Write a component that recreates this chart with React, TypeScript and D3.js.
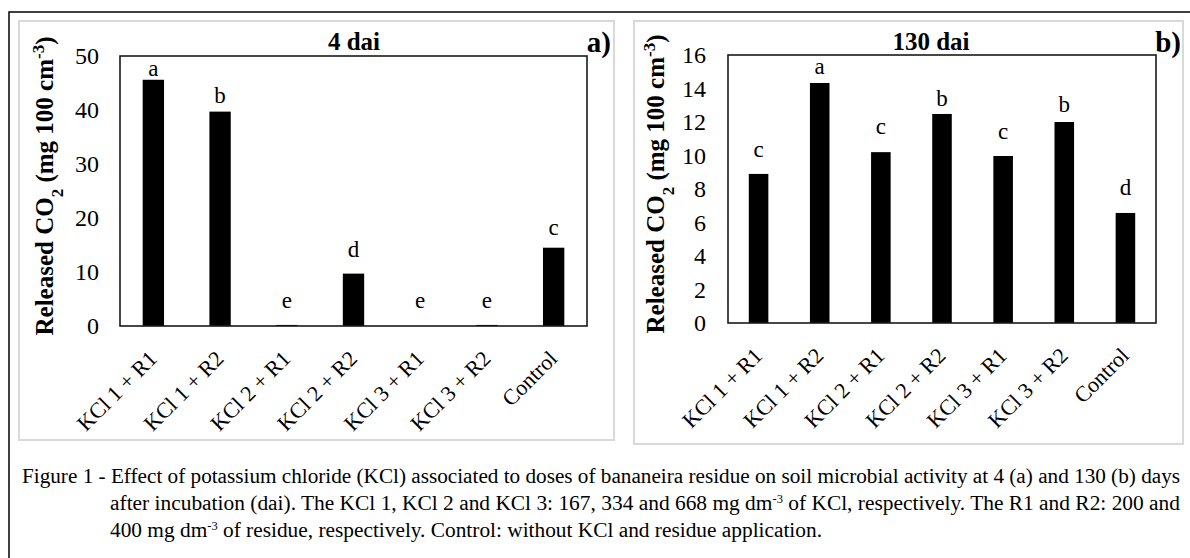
import React, { useEffect, useRef } from 'react';
import * as d3 from 'd3';

// treatments, same order in both panels
const categories = ['KCl 1 + R1', 'KCl 1 + R2', 'KCl 2 + R1', 'KCl 2 + R2', 'KCl 3 + R1', 'KCl 3 + R2', 'Control'];

// a) 4 dai
const values4 = [45.6, 39.7, 0.2, 9.7, 0.0, 0.2, 14.5];
const letters4 = ['a', 'b', 'e', 'd', 'e', 'e', 'c'];
const letterAt4 = [46.3, 41.3, 3.3, 12.8, 3.3, 3.3, 16.9];
const ticks4 = [0, 10, 20, 30, 40, 50];

// b) 130 dai
const values130 = [8.9, 14.33, 10.2, 12.48, 9.97, 12.0, 6.57];
const letters130 = ['c', 'a', 'c', 'b', 'c', 'b', 'd'];
const letterAt130 = [9.9, 14.87, 11.28, 12.96, 11.0, 12.6, 7.64];
const ticks130 = [0, 2, 4, 6, 8, 10, 12, 14, 16];

const serif = '"Liberation Serif", "Times New Roman", serif';

const drawPanel = (svg, p) => {
    const g = svg.append('g');

    // light grey panel box
    g.append('rect')
        .attr('x', p.box[0]).attr('y', p.box[1])
        .attr('width', p.box[2] - p.box[0]).attr('height', p.box[3] - p.box[1])
        .attr('fill', 'none').attr('stroke', '#d9d9d9').attr('stroke-width', 2);

    const x = d3.scaleBand()
        .domain(categories)
        .range([p.left, p.right])
        .paddingInner(0.68)
        .paddingOuter(0.34);

    const y = d3.scaleLinear()
        .domain([0, p.max])
        .range([p.bottom, p.top]);

    g.selectAll('.bar')
        .data(p.values)
        .enter().append('rect')
        .attr('class', 'bar')
        .attr('x', (d, i) => x(categories[i]))
        .attr('width', x.bandwidth())
        .attr('y', d => y(d))
        .attr('height', d => y(0) - y(d))
        .attr('fill', '#000');

    // plot frame
    g.append('rect')
        .attr('x', p.left).attr('y', p.top)
        .attr('width', p.right - p.left).attr('height', p.bottom - p.top)
        .attr('fill', 'none').attr('stroke', '#1a1a1a').attr('stroke-width', 1.6);

    const yAxis = g.append('g')
        .attr('transform', `translate(${p.left},0)`)
        .call(d3.axisLeft(y).tickValues(p.ticks).tickSize(0).tickPadding(p.tickPad));
    yAxis.select('.domain').remove();
    yAxis.selectAll('text')
        .attr('font-family', serif).attr('font-size', 24).attr('fill', '#000');

    // significance letters
    g.selectAll('.letter')
        .data(p.letters)
        .enter().append('text')
        .attr('class', 'letter')
        .attr('x', (d, i) => x(categories[i]) + x.bandwidth() / 2)
        .attr('y', (d, i) => y(p.letterAt[i]))
        .attr('text-anchor', 'middle')
        .attr('font-family', serif).attr('font-size', 23)
        .text(d => d);

    // rotated category labels
    g.selectAll('.cat')
        .data(categories)
        .enter().append('text')
        .attr('class', 'cat')
        .attr('transform', d => `translate(${x(d) + x.bandwidth() / 2 + 5},${p.bottom + 34}) rotate(-45)`)
        .attr('text-anchor', 'end')
        .attr('font-family', serif).attr('font-size', 22)
        .text(d => d);

    // y title
    const yt = g.append('text')
        .attr('transform', `translate(${p.titleX},${(p.top + p.bottom) / 2 - 5}) rotate(-90)`)
        .attr('text-anchor', 'middle')
        .attr('font-family', serif).attr('font-size', 25).attr('font-weight', 'bold');
    yt.append('tspan').text('Released CO');
    yt.append('tspan').attr('baseline-shift', 'sub').attr('font-size', 17).text('2');
    yt.append('tspan').text(' (mg 100 cm');
    yt.append('tspan').attr('baseline-shift', 'super').attr('font-size', 17).text('-3');
    yt.append('tspan').text(')');

    g.append('text')
        .attr('x', p.headX).attr('y', 50)
        .attr('text-anchor', 'middle')
        .attr('font-family', serif).attr('font-size', 25).attr('font-weight', 'bold')
        .text(p.head);

    g.append('text')
        .attr('x', p.tagX).attr('y', 52)
        .attr('text-anchor', 'end')
        .attr('font-family', serif).attr('font-size', 29).attr('font-weight', 'bold')
        .text(p.tag);
};

const App = () => {
    const chartRef = useRef(null);

    useEffect(() => {
        const svg = d3.select(chartRef.current);
        svg.selectAll('*').remove();

        svg.append('rect').attr('width', 1190).attr('height', 558).attr('fill', '#fff');

        // outer figure border (runs off right and bottom)
        svg.append('path')
            .attr('d', 'M9,600 V12 H1200')
            .attr('fill', 'none').attr('stroke', '#000').attr('stroke-width', 1.5);

        drawPanel(svg, {
            box: [19, 21, 614, 440],
            left: 120, right: 587, top: 56, bottom: 326,
            max: 50, ticks: ticks4, tickPad: 21,
            values: values4, letters: letters4, letterAt: letterAt4,
            titleX: 53, head: '4 dai', headX: 354, tag: 'a)', tagX: 611,
        });

        drawPanel(svg, {
            box: [634, 21, 1183, 444],
            left: 728, right: 1156, top: 55, bottom: 323,
            max: 16, ticks: ticks130, tickPad: 22,
            values: values130, letters: letters130, letterAt: letterAt130,
            titleX: 664, head: '130 dai', headX: 931, tag: 'b)', tagX: 1181,
        });

        // caption, lines 1 and 2 justified
        const cap = svg.append('g')
            .attr('font-family', serif).attr('font-size', 20.5).attr('fill', '#000');
        cap.append('text').attr('x', 22).attr('y', 483)
            .attr('textLength', 1158).attr('lengthAdjust', 'spacingAndGlyphs')
            .text('Figure 1 - Effect of potassium chloride (KCl) associated to doses of bananeira residue on soil microbial activity at 4 (a) and 130 (b) days');
        const l2 = cap.append('text').attr('x', 110).attr('y', 510)
            .attr('textLength', 1070).attr('lengthAdjust', 'spacingAndGlyphs');
        l2.append('tspan').text('after incubation (dai). The KCl 1, KCl 2 and KCl 3: 167, 334 and 668 mg dm');
        l2.append('tspan').attr('baseline-shift', 'super').attr('font-size', 12).text('-3');
        l2.append('tspan').text(' of KCl, respectively.  The R1 and R2: 200 and');
        const l3 = cap.append('text').attr('x', 110).attr('y', 537)
            .attr('textLength', 712).attr('lengthAdjust', 'spacingAndGlyphs');
        l3.append('tspan').text('400 mg dm');
        l3.append('tspan').attr('baseline-shift', 'super').attr('font-size', 12).text('-3');
        l3.append('tspan').text(' of residue, respectively. Control: without KCl and residue application.');
    }, []);

    return (
        <svg ref={chartRef} width={1190} height={558}
            style={{ position: 'absolute', left: 0, top: 0, display: 'block' }} />
    );
};

export default App;
